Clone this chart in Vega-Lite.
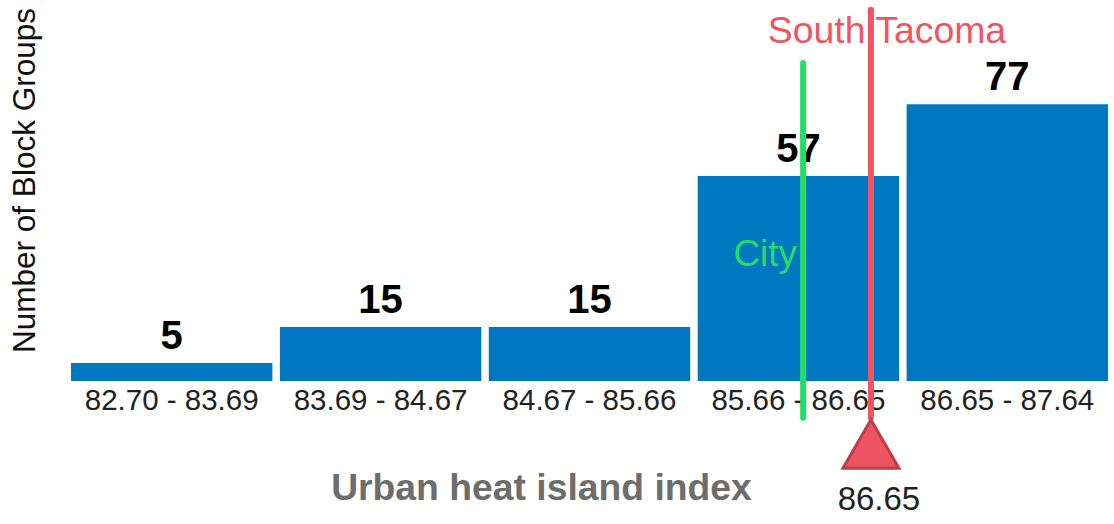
{
  "$schema": "https://vega.github.io/schema/vega-lite/v6.json",
  "width": 1037,
  "height": 381,
  "autosize": {"type": "none"},
  "padding": {"left": 71, "top": 0, "right": 6, "bottom": 143},
  "background": "white",
  "config": {"view": {"stroke": null}, "font": "Liberation Sans"},
  "datasets": {
    "bins": [
      {"range": "82.70 - 83.69", "count": 5},
      {"range": "83.69 - 84.67", "count": 15},
      {"range": "84.67 - 85.66", "count": 15},
      {"range": "85.66 - 86.65", "count": 57},
      {"range": "86.65 - 87.64", "count": 77}
    ],
    "markers": [
      {"name": "City", "pos": 3.53, "top": 88.5, "value": null},
      {"name": "South Tacoma", "pos": 3.857, "top": 103.3, "value": "86.65"}
    ]
  },
  "layer": [
    {
      "data": {"name": "bins"},
      "encoding": {
        "x": {
          "field": "range", "type": "ordinal", "sort": null,
          "scale": {"paddingInner": 0.036, "paddingOuter": 0},
          "axis": {
            "title": "Urban heat island index",
            "labelAngle": 0, "labelFontSize": 29.5, "labelColor": "#222222",
            "labelFont": "Liberation Sans", "labelPadding": 5,
            "ticks": false, "domain": false, "grid": false,
            "titleFont": "Liberation Sans", "titleFontSize": 37.3, "titleFontWeight": "bold",
            "titleColor": "#6d6d6b", "titleX": 470, "titleY": 118,
            "titleAlign": "center", "titleBaseline": "alphabetic"
          }
        },
        "y": {
          "field": "count", "type": "quantitative",
          "scale": {"domain": [0, 106], "nice": false},
          "axis": {
            "title": "Number of Block Groups", "labels": false, "ticks": false,
            "domain": false, "grid": false, "titleFont": "Liberation Sans",
            "titleFontSize": 31.5, "titleFontWeight": "normal", "titleColor": "#111111",
            "titlePadding": 30, "titleY": 180
          }
        }
      },
      "layer": [
        {"mark": {"type": "bar", "color": "#0077c0"}},
        {
          "mark": {"type": "text", "font": "Liberation Sans", "fontSize": 40, "fontWeight": "bold",
                   "color": "#000000", "baseline": "alphabetic", "dy": -14},
          "encoding": {"text": {"field": "count", "type": "quantitative"}}
        }
      ]
    },
    {
      "data": {"name": "markers"},
      "encoding": {
        "x": {"field": "pos", "type": "quantitative", "scale": {"domain": [0, 5], "nice": false, "zero": false}, "axis": null}
      },
      "layer": [
        {
          "mark": {"type": "rule", "strokeWidth": 6, "strokeCap": "round", "clip": false},
          "encoding": {
            "y": {"field": "top", "type": "quantitative", "scale": {"domain": [0, 106], "nice": false}},
            "y2": {"datum": -10.2},
            "color": {"field": "name", "type": "nominal",
                      "scale": {"domain": ["City", "South Tacoma"], "range": ["#22dd66", "#ee5560"]},
                      "legend": null}
          }
        },
        {
          "transform": [{"filter": "datum.name === 'City'"}],
          "mark": {"type": "text", "font": "Liberation Sans", "fontSize": 37, "color": "#22dd66",
                   "align": "right", "baseline": "middle", "dx": -6},
          "encoding": {"y": {"datum": 35}, "text": {"field": "name"}}
        },
        {
          "transform": [{"filter": "datum.name === 'South Tacoma'"}],
          "mark": {"type": "text", "font": "Liberation Sans", "fontSize": 37.4, "color": "#ee5560",
                   "align": "center", "baseline": "middle", "dx": 16},
          "encoding": {"y": {"datum": 97}, "text": {"field": "name"}}
        },
        {
          "transform": [{"filter": "datum.value !== null"}],
          "mark": {"type": "point", "shape": "triangle-up", "size": 3136, "filled": true,
                   "fill": "#ee5560", "stroke": "#b8404a", "strokeWidth": 3, "opacity": 1, "clip": false},
          "encoding": {"y": {"datum": -17.5}}
        },
        {
          "transform": [{"filter": "datum.value !== null"}],
          "mark": {"type": "text", "font": "Liberation Sans", "fontSize": 33, "color": "#222222",
                   "align": "center", "baseline": "middle", "dx": 8},
          "encoding": {"y": {"datum": -33.1}, "text": {"field": "value"}}
        }
      ]
    }
  ],
  "resolve": {"scale": {"x": "independent"}}
}
